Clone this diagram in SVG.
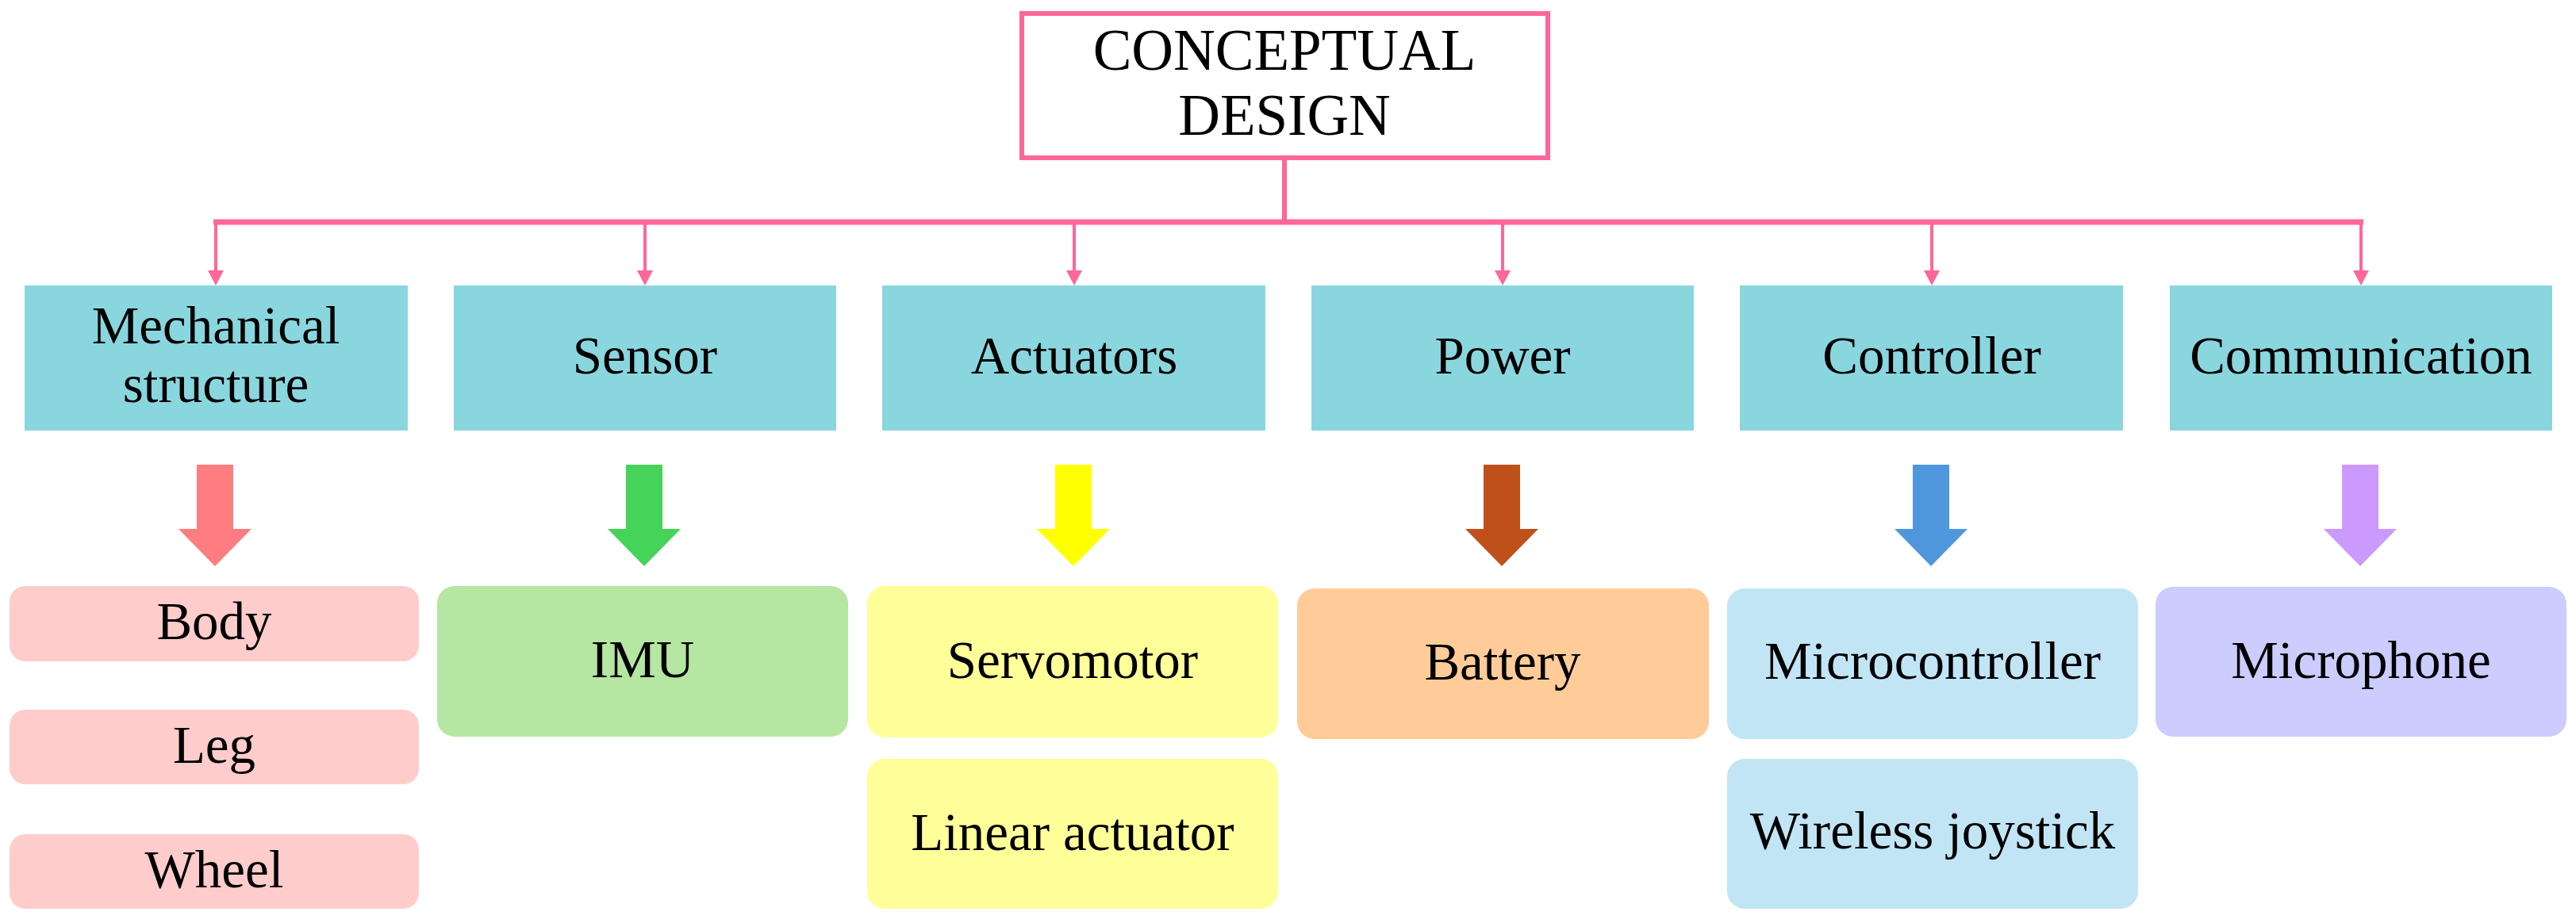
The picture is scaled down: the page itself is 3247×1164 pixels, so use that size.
<svg xmlns="http://www.w3.org/2000/svg" width="3247" height="1164" viewBox="0 0 3247 1164">
<style>
text{font-family:"Liberation Serif","Times New Roman",serif;fill:#000;text-anchor:middle}
.t{font-size:67px}
.top{font-size:73px}
.cat{fill:#8AD6DE}
.line{stroke:#FF6699;fill:none}
.ah{fill:#FF6699}
</style>
<rect width="3247" height="1164" fill="#fff"/>
<g id="connectors">
<line class="line" x1="1619" y1="199" x2="1619" y2="280" stroke-width="6"/>
<line class="line" x1="269" y1="280" x2="2979" y2="280" stroke-width="7"/>
<g stroke-width="4">
<line class="line" x1="272" y1="280" x2="272" y2="345"/>
<line class="line" x1="813" y1="280" x2="813" y2="345"/>
<line class="line" x1="1354" y1="280" x2="1354" y2="345"/>
<line class="line" x1="1894" y1="280" x2="1894" y2="345"/>
<line class="line" x1="2435" y1="280" x2="2435" y2="345"/>
<line class="line" x1="2976" y1="280" x2="2976" y2="345"/>
</g>
<polygon class="ah" points="262,341 282,341 272,360"/>
<polygon class="ah" points="803,341 823,341 813,360"/>
<polygon class="ah" points="1344,341 1364,341 1354,360"/>
<polygon class="ah" points="1884,341 1904,341 1894,360"/>
<polygon class="ah" points="2425,341 2445,341 2435,360"/>
<polygon class="ah" points="2966,341 2986,341 2976,360"/>
<polygon fill="#FF7C80" points="248,586 294,586 294,667 317,667 271,714 225,667 248,667"/>
<polygon fill="#46D35A" points="789,586 835,586 835,667 858,667 812,714 766,667 789,667"/>
<polygon fill="#FFFF00" points="1330,586 1376,586 1376,667 1399,667 1353,714 1307,667 1330,667"/>
<polygon fill="#C0501A" points="1870,586 1916,586 1916,667 1939,667 1893,714 1847,667 1870,667"/>
<polygon fill="#4F97DD" points="2411,586 2457,586 2457,667 2480,667 2434,714 2388,667 2411,667"/>
<polygon fill="#CC99FF" points="2952,586 2998,586 2998,667 3021,667 2975,714 2929,667 2952,667"/>
</g>
<g id="root">
<rect x="1288" y="17" width="663" height="182" fill="#fff" stroke="#FF6699" stroke-width="6"/>
<text class="top" x="1619" y="88">CONCEPTUAL</text>
<text class="top" x="1619" y="170">DESIGN</text>
</g>
<g id="mechanical"><rect class="cat" x="31" y="360" width="483" height="183"/><text class="t" x="272" y="433">Mechanical</text><text class="t" x="272" y="507">structure</text></g>
<g id="sensor"><rect class="cat" x="572" y="360" width="482" height="183"/><text class="t" x="813" y="471">Sensor</text></g>
<g id="actuators"><rect class="cat" x="1112" y="360" width="483" height="183"/><text class="t" x="1354" y="471">Actuators</text></g>
<g id="power"><rect class="cat" x="1653" y="360" width="482" height="183"/><text class="t" x="1894" y="471">Power</text></g>
<g id="controller"><rect class="cat" x="2193" y="360" width="483" height="183"/><text class="t" x="2435" y="471">Controller</text></g>
<g id="communication"><rect class="cat" x="2735" y="360" width="482" height="183"/><text class="t" x="2976" y="471">Communication</text></g>
<g id="body"><rect x="12" y="739" width="516" height="95" rx="20" fill="#FFCCCC"/><text class="t" x="270" y="806">Body</text></g>
<g id="leg"><rect x="12" y="895" width="516" height="94" rx="20" fill="#FFCCCC"/><text class="t" x="270" y="962">Leg</text></g>
<g id="wheel"><rect x="12" y="1052" width="516" height="94" rx="20" fill="#FFCCCC"/><text class="t" x="270" y="1119">Wheel</text></g>
<g id="imu"><rect x="551" y="739" width="518" height="190" rx="22" fill="#B5E6A2"/><text class="t" x="810" y="854">IMU</text></g>
<g id="servomotor"><rect x="1093" y="739" width="518" height="191" rx="22" fill="#FFFF99"/><text class="t" x="1352" y="855">Servomotor</text></g>
<g id="linear-actuator"><rect x="1093" y="957" width="518" height="189" rx="22" fill="#FFFF99"/><text class="t" x="1352" y="1072">Linear actuator</text></g>
<g id="battery"><rect x="1635" y="742" width="519" height="190" rx="22" fill="#FFCC99"/><text class="t" x="1894" y="857">Battery</text></g>
<g id="microcontroller"><rect x="2177" y="742" width="518" height="190" rx="22" fill="#C2E5F5"/><text class="t" x="2436" y="856">Microcontroller</text></g>
<g id="wireless-joystick"><rect x="2177" y="957" width="518" height="189" rx="22" fill="#C2E5F5"/><text class="t" x="2436" y="1070">Wireless joystick</text></g>
<g id="microphone"><rect x="2717" y="740" width="518" height="189" rx="22" fill="#CCCCFF"/><text class="t" x="2976" y="855">Microphone</text></g>
</svg>
